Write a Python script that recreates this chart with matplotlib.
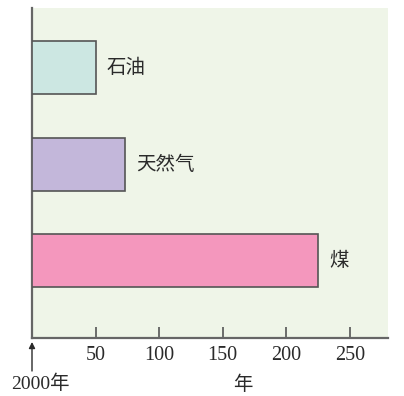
import matplotlib
matplotlib.use("Agg")
import matplotlib.pyplot as plt

categories = ["煤", "天然气", "石油"]
years = [225, 73, 50]
colors = ["#f497bd", "#c3b7da", "#cce7e2"]
xticks = [50, 100, 150, 200, 250]

W, H = 404, 396
fig = plt.figure(figsize=(W / 100, H / 100), dpi=100)
fig.patch.set_facecolor("white")
ax = fig.add_axes([32 / W, (H - 338) / H, 356 / W, 330 / H])
ax.set_facecolor("#eff5e8")

pos = list(range(len(categories)))
ax.barh(pos, years, height=0.55, color=colors, edgecolor="#555555", linewidth=1.2, zorder=3)
for p, v, c in zip(pos, years, categories):
    ax.text(v + 9, p, c, va="center", ha="left", fontsize=14,
            family=["Noto Sans CJK SC"], color="#2a2a2a")

ax.set_xlim(0, 280)
ax.set_ylim(-0.8, 2.62)
ax.set_xticks(xticks)
ax.set_xticklabels([str(t) for t in xticks], family=["Liberation Serif"], fontsize=14.5, color="#2a2a2a")
ax.set_yticks([])
ax.tick_params(axis="x", direction="in", length=8, width=1.2, color="#555555", pad=6)
for s in ["top", "right"]:
    ax.spines[s].set_visible(False)
for s in ["left", "bottom"]:
    ax.spines[s].set_color("#666666")
    ax.spines[s].set_linewidth(1.6)

# arrow below origin
ax.annotate("", xy=(0, -0.012), xycoords=("data", "axes fraction"),
            xytext=(0, -0.1), textcoords=("data", "axes fraction"),
            arrowprops=dict(arrowstyle="-|>", color="#2a2a2a", lw=1.0, mutation_scale=9,
                            shrinkA=0, shrinkB=0),
            annotation_clip=False)
fig.text(40 / W, 1 - 384 / H, "2000年", ha="center", va="center", fontsize=14,
         family=["Liberation Serif", "Noto Sans CJK SC"], color="#2a2a2a")
fig.text(243 / W, 1 - 384 / H, "年", ha="center", va="center", fontsize=14,
         family=["Noto Sans CJK SC"], color="#2a2a2a")

fig.savefig("out.png", dpi=100)
